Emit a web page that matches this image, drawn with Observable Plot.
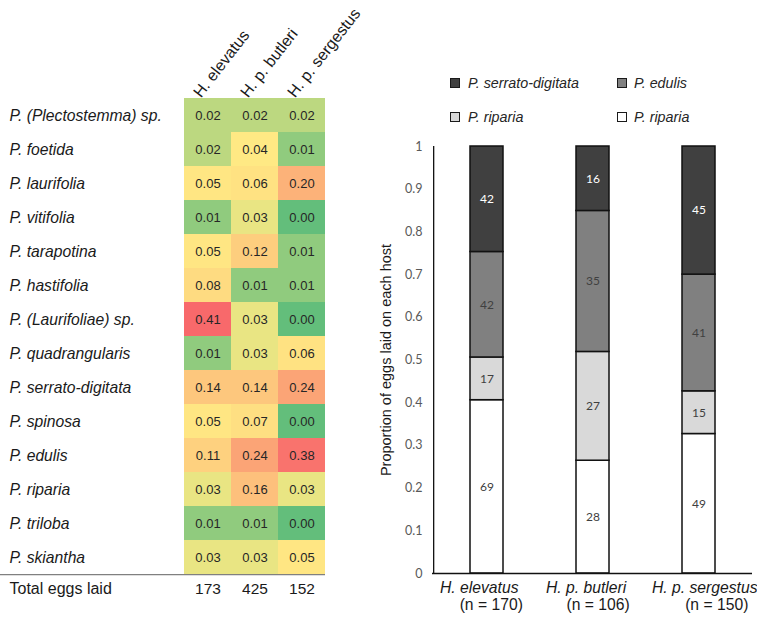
<!DOCTYPE html>
<html><head><meta charset="utf-8">
<script src="https://cdn.jsdelivr.net/npm/d3@7"></script>
<script src="https://cdn.jsdelivr.net/npm/@observablehq/plot@0.6"></script>
<style>
html,body{margin:0;padding:0;background:#fff;}
#root{position:relative;width:757px;height:621px;overflow:hidden;font-family:"Liberation Sans",Arial,sans-serif;}
#heat{position:absolute;left:0;top:0;}
#bars{position:absolute;left:360px;top:0;}
.leg{position:absolute;font-style:italic;font-size:14.3px;color:#262626;line-height:1;white-space:nowrap;}
.sw{position:absolute;width:8px;height:8px;border:1px solid #1a1a1a;}
</style></head><body>
<div id="root"><div id="heat"></div><div id="bars"></div><div id="legend"></div></div>
<script>
// ---------- data ----------
const hosts = ["H. elevatus", "H. p. butleri", "H. p. sergestus"];
const plants = ["P. (Plectostemma) sp.", "P. foetida", "P. laurifolia", "P. vitifolia", "P. tarapotina",
  "P. hastifolia", "P. (Laurifoliae) sp.", "P. quadrangularis", "P. serrato-digitata", "P. spinosa",
  "P. edulis", "P. riparia", "P. triloba", "P. skiantha"];
const heatElevatus  = [0.02, 0.02, 0.05, 0.01, 0.05, 0.08, 0.41, 0.01, 0.14, 0.05, 0.11, 0.03, 0.01, 0.03];
const heatButleri   = [0.02, 0.04, 0.06, 0.03, 0.12, 0.01, 0.03, 0.03, 0.14, 0.07, 0.24, 0.16, 0.01, 0.03];
const heatSergestus = [0.02, 0.01, 0.20, 0.00, 0.01, 0.01, 0.00, 0.06, 0.24, 0.00, 0.38, 0.03, 0.00, 0.05];
const totalEggs = [173, 425, 152];
const totalLabel = "Total eggs laid";

const nLabels = ["(n = 170)", "(n = 106)", "(n = 150)"];
const seriesKeys = ["ripariaWhite", "ripariaLight", "edulis", "serrato"];   // bottom -> top
const seriesLabels = ["P. riparia", "P. riparia", "P. edulis", "P. serrato-digitata"];
const countRipariaWhite = [69, 28, 49];
const countRipariaLight = [17, 27, 15];
const countEdulis = [42, 35, 41];
const countSerrato = [42, 16, 45];
const yTicks = [0, 0.1, 0.2, 0.3, 0.4, 0.5, 0.6, 0.7, 0.8, 0.9, 1];
const yTitle = "Proportion of eggs laid on each host";

// ---------- heatmap ----------
const heatCols = [heatElevatus, heatButleri, heatSergestus];
const heatRows = plants.flatMap((p, i) => hosts.map((h, j) => ({plant: p, host: h, value: heatCols[j][i]})));
const hW = 340, hH = 621, hML = 183, hMR = 15, hMT = 97, hMB = 46;
const rowStep = (hH - hMT - hMB) / plants.length;
const font = "Liberation Sans, Arial, sans-serif";

const heat = Plot.plot({
  width: hW, height: hH, marginLeft: hML, marginRight: hMR, marginTop: hMT, marginBottom: hMB,
  style: {fontFamily: font, background: "transparent", overflow: "visible"},
  x: {domain: hosts, padding: 0, axis: null},
  y: {domain: plants, padding: 0, axis: null},
  color: {type: "linear", domain: [0, 0.035, 0.41], range: ["#63BE7B", "#FFEB84", "#F8696B"], interpolate: "rgb"},
  marks: [
    Plot.cell(heatRows, {x: "host", y: "plant", fill: "value"}),
    Plot.text(heatRows, {x: "host", y: "plant", text: d => d.value.toFixed(2), fontSize: 13, fill: "#262626"}),
    Plot.text(plants, {y: d => d, text: d => d, frameAnchor: "left", dx: -174, textAnchor: "start",
      fontSize: 15.7, fontStyle: "italic", fill: "#1a1a1a", ariaLabel: "row-labels"}),
    Plot.text(hosts, {x: d => d, text: d => d, frameAnchor: "top", rotate: -52, textAnchor: "start",
      dx: -16, dy: -6, fontSize: 16, fill: "#1a1a1a"}),
    Plot.ruleY([plants[plants.length - 1]], {y: d => d, dy: rowStep / 2, insetLeft: -hML, stroke: "#808080", strokeWidth: 1.2}),
    Plot.text([totalLabel], {text: d => d, frameAnchor: "bottom-left", dx: -174, dy: 18, textAnchor: "start", fontSize: 16, fill: "#1a1a1a"}),
    Plot.text(hosts, {x: d => d, text: (d, i) => String(totalEggs[i]), frameAnchor: "bottom", dy: 18, fontSize: 15.5, fill: "#1a1a1a"})
  ]
});
document.getElementById("heat").appendChild(heat);

// mixed italic / upright row label
heat.querySelectorAll('g[aria-label="row-labels"] text').forEach(t => {
  const s = t.textContent;
  const m = s.match(/^(.*?)(\((Laurifoliae)\))(.*)$/);
  if (m) {
    t.textContent = "";
    const ns = "http://www.w3.org/2000/svg";
    [[m[1], "italic"], [m[2], "normal"], [m[4], "italic"]].forEach(([txt, st]) => {
      const ts = document.createElementNS(ns, "tspan");
      ts.setAttribute("font-style", st);
      ts.textContent = txt;
      t.appendChild(ts);
    });
  }
});

// ---------- stacked bars ----------
const counts = [countRipariaWhite, countRipariaLight, countEdulis, countSerrato];
const nTotals = hosts.map((h, j) => d3.sum(counts, c => c[j]));
const barRows = hosts.flatMap((h, j) => seriesKeys.map((s, k) => ({host: h, series: s, count: counts[k][j], prop: counts[k][j] / nTotals[j]})));
const bW = 397, bH = 621, bML = 72, bMR = 5, bMT = 146, bMB = 48;
const step = (bW - bML - bMR) / hosts.length;
const darkKey = "serrato";
const seriesColors = ["#ffffff", "#d9d9d9", "#808080", "#404040"];

const ctx = document.createElement("canvas").getContext("2d");
ctx.font = "italic 15.7px 'Liberation Sans'";
const nameW = hosts.map(h => ctx.measureText(h).width);

const bars = Plot.plot({
  width: bW, height: bH, marginLeft: bML, marginRight: bMR, marginTop: bMT, marginBottom: bMB,
  style: {fontFamily: font, background: "transparent", overflow: "visible"},
  x: {domain: hosts, paddingInner: 0.69, paddingOuter: 0.345, axis: null},
  y: {domain: [0, 1], axis: null},
  color: {domain: seriesKeys, range: seriesColors},
  marks: [
    Plot.axisY({ticks: yTicks, tickFormat: d => String(d), tickSize: 0, tickPadding: 10, fontSize: 12.5,
      fontFamily: "Lato, sans-serif", color: "#595959", label: null}),
    Plot.barY(barRows, {x: "host", y: "prop", fill: "series", stroke: "#111", strokeWidth: 1.5}),
    Plot.text(barRows, Plot.stackY({x: "host", y: "prop", text: d => d.series === darkKey ? null : String(d.count),
      fill: "#404040", fontSize: 12, fontFamily: "Lato, sans-serif"})),
    Plot.text(barRows, Plot.stackY({x: "host", y: "prop", text: d => d.series === darkKey ? String(d.count) : null,
      fill: "#ffffff", fontSize: 12, fontFamily: "Lato, sans-serif"})),
    Plot.ruleY([0], {stroke: "#111", strokeWidth: 1.3}),
    Plot.ruleX([hosts[0]], {x: d => d, y1: 0, y2: 1, dx: -step / 2, stroke: "#111", strokeWidth: 1.3}),
    Plot.text([yTitle], {text: d => d, frameAnchor: "left", textAnchor: "middle", rotate: -90, dx: -46, fontSize: 14.5, fill: "#1a1a1a"}),
    Plot.text(hosts, {x: d => d, text: d => d, frameAnchor: "bottom", dy: 19, dx: -47, textAnchor: "start",
      fontSize: 15.7, fontStyle: "italic", fill: "#1a1a1a"}),
    ...hosts.map((h, j) => Plot.text([nLabels[j]], {x: () => h, text: d => d, frameAnchor: "bottom", dy: 36,
      dx: -35 + nameW[j] / 2, fontSize: 15.7, fill: "#1a1a1a"}))
  ]
});
document.getElementById("bars").appendChild(bars);

// ---------- legend ----------
const legend = document.getElementById("legend");
const legendOrder = [3, 2, 1, 0];
legendOrder.forEach((k, i) => {
  const col = i % 2, row = Math.floor(i / 2);
  const sw = document.createElement("div");
  sw.className = "sw";
  sw.style.left = (450 + col * 167) + "px";
  sw.style.top = (78 + row * 34) + "px";
  sw.style.background = seriesColors[k];
  legend.appendChild(sw);
  const tx = document.createElement("div");
  tx.className = "leg";
  tx.style.left = (468 + col * 166) + "px";
  tx.style.top = (75.5 + row * 34) + "px";
  tx.textContent = seriesLabels[k];
  legend.appendChild(tx);
});
</script>
</body></html>
